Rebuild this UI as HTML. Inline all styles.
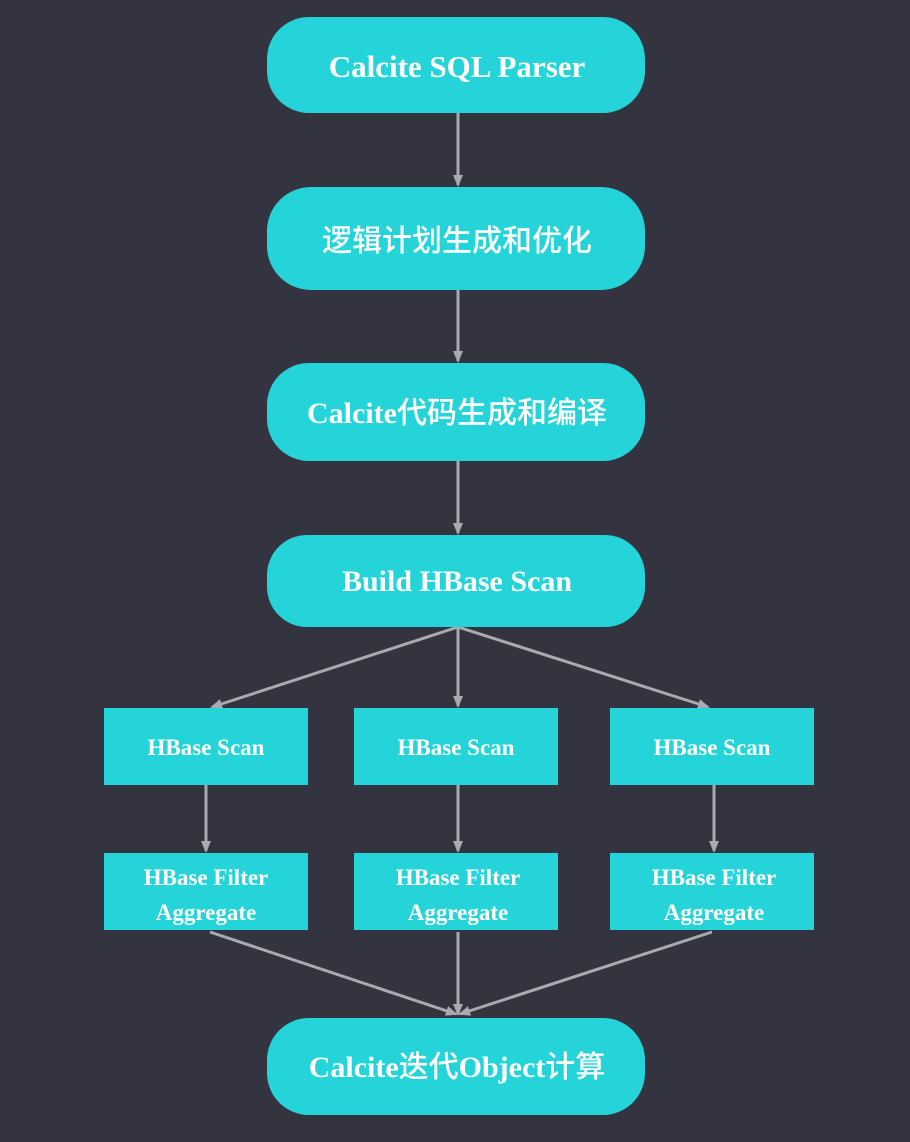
<!DOCTYPE html>
<html><head><meta charset="utf-8"><style>
html,body{margin:0;padding:0;background:#33343f;}
svg{display:block}
text{font-family:"Liberation Serif","Noto Sans CJK SC",serif;font-weight:bold;fill:#fff;text-anchor:middle;}
.c{font-family:"Liberation Serif","Noto Sans CJK SC",serif;}
</style></head><body>
<svg width="910" height="1142" viewBox="0 0 910 1142" xmlns="http://www.w3.org/2000/svg">
<rect width="910" height="1142" fill="#33343f"/>
<defs><marker id="a" markerWidth="12" markerHeight="12" refX="10" refY="5" orient="auto" markerUnits="userSpaceOnUse"><path d="M0,0 L12,5 L0,10 Z" fill="#a9a9b2"/></marker></defs>
<g stroke="#a9a9b2" stroke-width="3" fill="none" marker-end="url(#a)">
<line x1="458" y1="113" x2="458" y2="185"/>
<line x1="458" y1="290" x2="458" y2="361"/>
<line x1="458" y1="461" x2="458" y2="533"/>
<line x1="458" y1="627" x2="458" y2="706"/>
<line x1="458" y1="627" x2="212" y2="707"/>
<line x1="458" y1="627" x2="708" y2="707"/>
<line x1="206" y1="785" x2="206" y2="851"/>
<line x1="458" y1="785" x2="458" y2="851"/>
<line x1="714" y1="785" x2="714" y2="851"/>
<line x1="210" y1="932" x2="456" y2="1014"/>
<line x1="458" y1="932" x2="458" y2="1014"/>
<line x1="712" y1="932" x2="460" y2="1014"/>
</g>
<g fill="#25d4d9">
<rect x="267" y="17" width="378" height="96" rx="42"/>
<rect x="267" y="187" width="378" height="103" rx="44"/>
<rect x="267" y="363" width="378" height="98" rx="42"/>
<rect x="267" y="535" width="378" height="92" rx="40"/>
<rect x="267" y="1018" width="378" height="97" rx="42"/>
<rect x="104" y="708" width="204" height="77"/>
<rect x="354" y="708" width="204" height="77"/>
<rect x="610" y="708" width="204" height="77"/>
<rect x="104" y="853" width="204" height="77"/>
<rect x="354" y="853" width="204" height="77"/>
<rect x="610" y="853" width="204" height="77"/>
</g>
<text x="457" y="77" font-size="31">Calcite SQL Parser</text>
<text x="457" y="251" font-size="30" style="font-family:'Noto Sans CJK SC',sans-serif;font-weight:500">逻辑计划生成和优化</text>
<text x="457" y="423" font-size="30"><tspan>Calcite</tspan><tspan style="font-family:'Noto Sans CJK SC',sans-serif;font-weight:500">代码生成和编译</tspan></text>
<text x="457" y="591" font-size="30">Build HBase Scan</text>
<text x="457" y="1077" font-size="30"><tspan>Calcite</tspan><tspan style="font-family:'Noto Sans CJK SC',sans-serif;font-weight:500">迭代</tspan><tspan>Object</tspan><tspan style="font-family:'Noto Sans CJK SC',sans-serif;font-weight:500">计算</tspan></text>
<g font-size="23">
<text x="206" y="755">HBase Scan</text>
<text x="456" y="755">HBase Scan</text>
<text x="712" y="755">HBase Scan</text>
<text x="206" y="885">HBase Filter</text>
<text x="206" y="920">Aggregate</text>
<text x="458" y="885">HBase Filter</text>
<text x="458" y="920">Aggregate</text>
<text x="714" y="885">HBase Filter</text>
<text x="714" y="920">Aggregate</text>
</g>
</svg>
</body></html>
